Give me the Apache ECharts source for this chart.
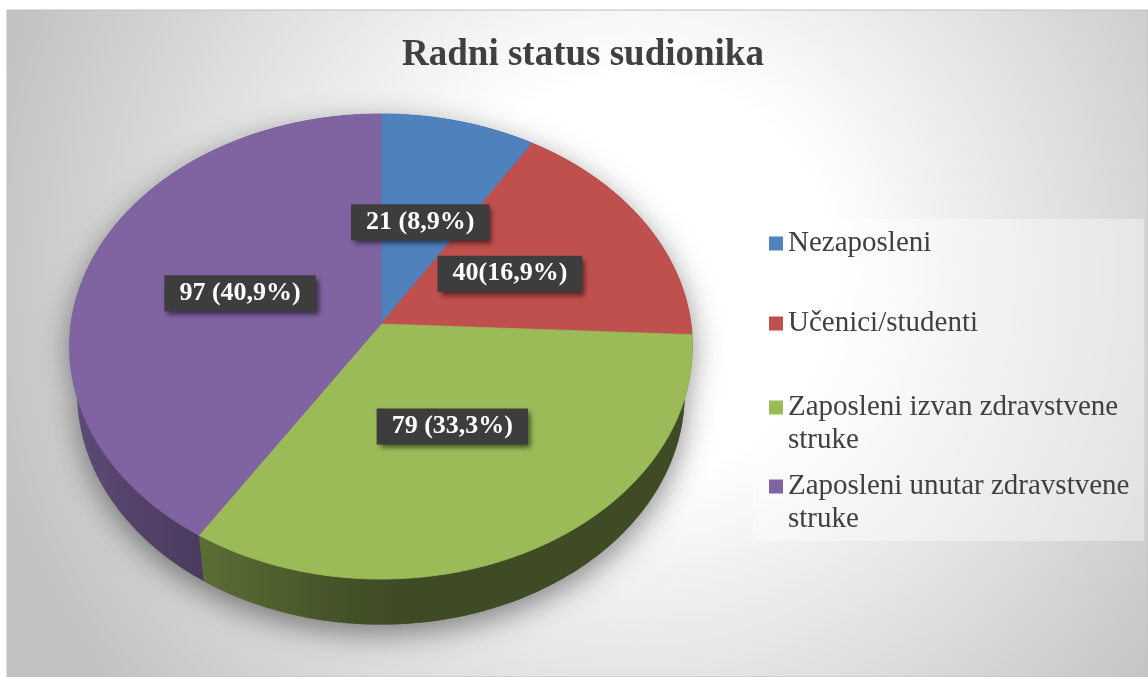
<!DOCTYPE html>
<html>
<head>
<meta charset="utf-8">
<title>Radni status sudionika</title>
<script src="https://cdn.jsdelivr.net/npm/echarts@6/dist/echarts.min.js"></script>
<style>
html, body { margin: 0; padding: 0; background: #fff; }
#chart { width: 1148px; height: 677px; }
</style>
</head>
<body>
<div id="chart"></div>
<script>
/* Radni status sudionika - 3D tortni grafikon */

// podaci
var categories = ['Nezaposleni', 'Učenici/studenti', 'Zaposleni izvan zdravstvene struke', 'Zaposleni unutar zdravstvene struke'];
var counts = [21, 40, 79, 97];
var labelGaps = [' ', '', ' ', ' '];   // kao u originalu: "40(16,9%)"
var colors = ['#4f81bd', '#c0504d', '#9bbb59', '#8064a2'];

var total = counts.reduce(function(a, b){ return a + b; }, 0);

// geometrija tanjura (perspektiva)
var CX = 381, CY = 324, K = 310;
var TILT = 48 * Math.PI / 180;
var PERSP = 0.1446;   // R / udaljenost kamere
var DEPTH = 0.235;    // debljina / R
var LABEL_R = 0.48;
var VIS_A = 95.5 * Math.PI / 180, VIS_B = 264.5 * Math.PI / 180;

function project(theta, rho, w){
	var u = rho * Math.sin(theta), v = rho * Math.cos(theta);
	var y = v * Math.sin(TILT) + w * Math.cos(TILT);
	var z = 1 + (v * Math.cos(TILT) - w * Math.sin(TILT)) * PERSP;
	return [CX + K * u / z, CY - K * y / z];
}

function arc(t1, t2, w){
	var pts = [];
	var n = Math.max(2, Math.ceil(Math.abs(t2 - t1) / (Math.PI / 180)));
	for (var k = 0; k <= n; k++) {
		pts.push(project(t1 + (t2 - t1) * k / n, 1, w));
	}
	return pts;
}

function angleOf(i){
	var s = 0;
	for (var k = 0; k < i; k++) s += counts[k];
	return 2 * Math.PI * s / total;
}

function shade(hex, theta){
	var f = 0.4 + 0.35 * Math.max(0, -Math.sin(theta));
	var r = parseInt(hex.substr(1, 2), 16), g = parseInt(hex.substr(3, 2), 16), b = parseInt(hex.substr(5, 2), 16);
	return 'rgb(' + Math.round(r * f) + ',' + Math.round(g * f) + ',' + Math.round(b * f) + ')';
}

/**
 * bočna strana (i sjena ispod cijelog tanjura)
 */
function renderSide(params, api){
	var i = params.dataIndex;
	var t1 = angleOf(i), t2 = t1 + 2 * Math.PI * api.value(0) / total;
	var children = [];
	if (i === 0) {
		var outline = arc(VIS_B - 2 * Math.PI, VIS_A, 0).concat(arc(VIS_A, VIS_B, -DEPTH));
		children.push({
			type: 'polygon',
			shape: { points: outline },
			style: { fill: '#666', shadowBlur: 30, shadowColor: 'rgba(0,0,0,0.45)', shadowOffsetY: 9 }
		});
	}
	var fill = shade(colors[i], (t1 + t2) / 2);
	var ta = Math.max(t1, VIS_A), tb = Math.min(t2, VIS_B);
	if (ta < tb) {
		var x0 = project(ta, 1, 0)[0], x1 = project(tb, 1, 0)[0];
		var stops = [];
		for (var k = 0; k <= 10; k++) {
			var t = ta + (tb - ta) * k / 10;
			var off = (project(t, 1, 0)[0] - x0) / (x1 - x0);
			stops.push({ offset: Math.min(1, Math.max(0, off)), color: shade(colors[i], t) });
		}
		fill = new echarts.graphic.LinearGradient(x0, 0, x1, 0, stops, true);
	}
	children.push({
		type: 'polygon',
		shape: { points: arc(t1, t2, 0).concat(arc(t2, t1, -DEPTH)) },
		style: { fill: fill }
	});
	return { type: 'group', children: children };
}

/**
 * gornja ploha + oznaka
 */
function renderTop(i){
	return function(params, api){
		var v = api.value(0);
		var t1 = angleOf(i), t2 = t1 + 2 * Math.PI * v / total;
		var pts = [project(0, 0, 0)].concat(arc(t1, t2, 0));
		var lp = project((t1 + t2) / 2, LABEL_R, 0);
		var pct = (v / total * 100).toFixed(1).replace('.', ',');
		return {
			type: 'group',
			children: [{
				type: 'polygon',
				shape: { points: pts },
				style: { fill: colors[i], stroke: colors[i], lineWidth: 0.8 }
			}, {
				type: 'text',
				z2: 100,
				x: lp[0],
				y: lp[1],
				style: {
					text: v + labelGaps[i] + '(' + pct + '%)',
					fill: '#fff',
					font: 'bold 26px "Liberation Serif"',
					align: 'center',
					verticalAlign: 'middle',
					backgroundColor: '#3d3d3d',
					padding: [6, 15, 4, 15],
					shadowColor: 'rgba(0,0,0,0.55)',
					shadowBlur: 5,
					shadowOffsetX: 3,
					shadowOffsetY: 4
				}
			}]
		};
	};
}

function wrapName(name){
	if (name.length < 22) return name;
	var p = name.lastIndexOf(' ');
	// prazan red naprijed da kvadratić ostane uz prvi red
	return '\n' + name.substring(0, p) + '\n' + name.substring(p + 1);
}

var legendTops = [222, 302, 353, 432];

var chart = echarts.init(document.getElementById('chart'));

var option = {
	animation: false,
	title: {
		text: 'Radni status sudionika',
		left: 397,
		top: 32,
		textStyle: { fontFamily: 'Liberation Serif', fontWeight: 'bold', fontSize: 37, color: '#404040' }
	},
	graphic: [{
		type: 'rect',
		z: -10,
		shape: { x: 7, y: 10, width: 1141, height: 667 },
		style: {
			fill: new echarts.graphic.RadialGradient(0.55, 0.4, 1.0, [
				{ offset: 0, color: '#ffffff' },
				{ offset: 0.3, color: '#ffffff' },
				{ offset: 1, color: '#c2c2c2' }
			]),
			stroke: '#c0c0c0',
			lineWidth: 1
		}
	}, {
		type: 'rect',
		z: -9,
		shape: { x: 753, y: 219, width: 391, height: 322 },
		style: { fill: 'rgba(255,255,255,0.38)' }
	}],
	legend: categories.map(function(name, i){
		return {
			data: [name],
			orient: 'vertical',
			left: 764,
			top: legendTops[i],
			icon: 'rect',
			itemWidth: 14,
			itemHeight: 14,
			selectedMode: false,
			formatter: wrapName,
			textStyle: { fontFamily: 'Liberation Serif', fontSize: 29, color: '#404040', lineHeight: 33 }
		};
	}),
	series: [{
		type: 'custom',
		name: 'strana',
		coordinateSystem: 'none',
		silent: true,
		z: 1,
		data: counts,
		renderItem: renderSide
	}].concat(categories.map(function(name, i){
		return {
			type: 'custom',
			name: name,
			coordinateSystem: 'none',
			z: 2,
			itemStyle: { color: colors[i] },
			data: [counts[i]],
			renderItem: renderTop(i)
		};
	}))
};

chart.setOption(option);
</script>
</body>
</html>
